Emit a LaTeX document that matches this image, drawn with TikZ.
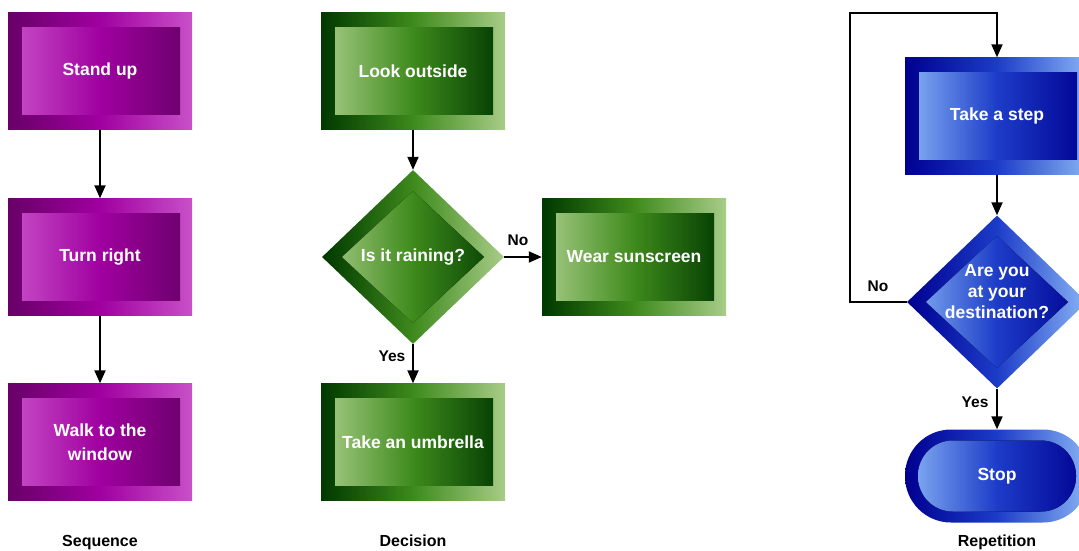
\documentclass[tikz,border=0pt]{standalone}
\usepackage{fontspec}
\setmainfont{Liberation Sans}
\usetikzlibrary{shapes.geometric,arrows.meta}
\definecolor{pdark}{HTML}{680068}
\definecolor{pmid}{HTML}{A000A0}
\definecolor{plight}{HTML}{C850C8}
\definecolor{gdark}{HTML}{003800}
\definecolor{gmid}{HTML}{3E8A1C}
\definecolor{glight}{HTML}{A8CC88}
\definecolor{bdark}{HTML}{000090}
\definecolor{bmid}{HTML}{1C3CC8}
\definecolor{blight}{HTML}{88B4F4}
\tikzset{
  boxtext/.style={text=white, font=\bfseries\fontsize{17.5}{24}\selectfont, align=center, inner sep=0pt},
  framebox/.style n args={3}{boxtext, rectangle, minimum width=184pt, minimum height=117pt,
    left color=#1, right color=#3, middle color=#2,
    path picture={\fill[left color=#3, right color=#1, middle color=#2]
      ([shift={(14pt,15pt)}]path picture bounding box.south west) rectangle
      ([shift={(-12pt,-15pt)}]path picture bounding box.north east);}},
  framediam/.style n args={3}{boxtext, diamond, minimum width=182pt, minimum height=174pt,
    left color=#1, right color=#3, middle color=#2,
    path picture={\fill[left color=#3, right color=#1, middle color=#2]
      ([shift={(-71pt,0pt)}]path picture bounding box.center) --
      ([shift={(0pt,66pt)}]path picture bounding box.center) --
      ([shift={(71pt,0pt)}]path picture bounding box.center) --
      ([shift={(0pt,-66pt)}]path picture bounding box.center) -- cycle;}},
  frameterm/.style n args={3}{boxtext, rectangle, rounded corners=46pt, minimum width=184pt, minimum height=93pt,
    left color=#1, right color=#3, middle color=#2,
    path picture={\fill[left color=#3, right color=#1, middle color=#2, rounded corners=35pt]
      ([shift={(13pt,11pt)}]path picture bounding box.south west) rectangle
      ([shift={(-13pt,-11pt)}]path picture bounding box.north east);}},
  conn/.style={line width=2pt, -{Triangle[length=13pt,width=11pt]}},
  lbl/.style={font=\bfseries\fontsize{15.5}{18}\selectfont, inner sep=0pt},
  captext/.style={font=\bfseries\fontsize{16}{19}\selectfont, inner sep=0pt, anchor=base}
}
\begin{document}
\begin{tikzpicture}[x=1pt,y=-1pt]
\clip (0,0) rectangle (1079,550);
\fill[white] (0,0) rectangle (1079,550);
% Sequence
\node[framebox={pdark}{pmid}{plight}] (s1) at (100,71) {Stand up};
\node[framebox={pdark}{pmid}{plight}] (s2) at (100,257) {Turn right};
\node[framebox={pdark}{pmid}{plight}] (s3) at (100,442) {Walk to the\\window};
% Decision
\node[framebox={gdark}{gmid}{glight}] (d0) at (413,71) {Look outside};
\node[framediam={gdark}{gmid}{glight}] (d1) at (413,257) {Is it raining?};
\node[framebox={gdark}{gmid}{glight}] (d2) at (634,257) {Wear sunscreen};
\node[framebox={gdark}{gmid}{glight}] (d3) at (413,442) {Take an umbrella};
% Repetition
\node[framebox={bdark}{bmid}{blight}] (r1) at (997,116) {Take a step};
\node[framediam={bdark}{bmid}{blight}, minimum width=180pt, minimum height=173pt] (r2) at (997,302)
  {\raisebox{5pt}[0pt][0pt]{\begin{tabular}{@{}c@{}}Are you\\[-3pt]at your\\[-3pt]destination?\end{tabular}}};
\node[frameterm={bdark}{bmid}{blight}] (r3) at (997,476) {Stop};
\coordinate (loop) at (850,13);
% connectors
\draw[conn] (s1.south) -- (s2.north);
\draw[conn] (s2.south) -- (s3.north);
\draw[conn] (d0.south) -- (d1.north);
\draw[conn] (d1.east) -- (d2.west);
\draw[conn] (d1.south) -- (d3.north);
\draw[conn] (r1.south) -- (r2.north);
\draw[conn] (r2.south) -- (r3.north);
\draw[conn] (r2.west) -| (loop) -| (r1.north);
% labels
\node[lbl] (lno1) at (518,240) {No};
\node[lbl] (lyes1) at (392,356) {Yes};
\node[lbl] (lno2) at (878,286) {No};
\node[lbl] (lyes2) at (975,402) {Yes};
\node[captext] (c1) at (100,546) {Sequence};
\node[captext] (c2) at (413,546) {Decision};
\node[captext] (c3) at (997,546) {Repetition};
\end{tikzpicture}
\end{document}
